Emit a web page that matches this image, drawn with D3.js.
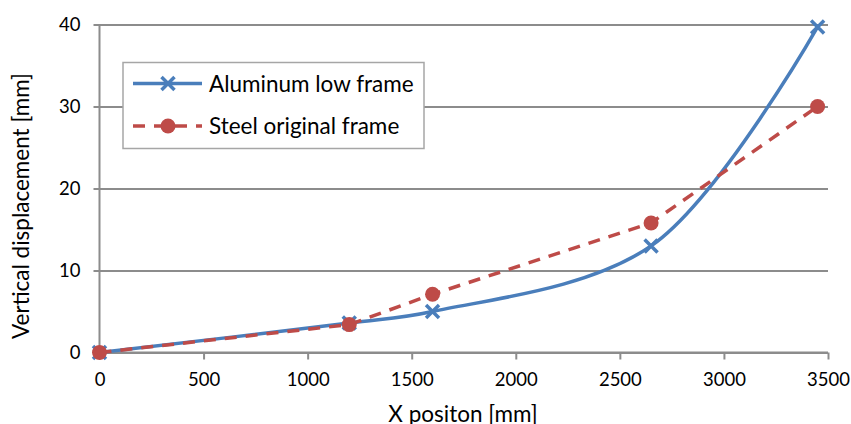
<!DOCTYPE html>
<html>
<head>
<meta charset="utf-8">
<script src="https://cdn.jsdelivr.net/npm/d3@7"></script>
<style>
  body { margin: 0; background: #fff; }
  text { font-family: Lato, "Open Sans", sans-serif; fill: #000; }
</style>
</head>
<body>
<div id="chart"></div>
<script>
// data
var series_names = ['Aluminum low frame', 'Steel original frame'];
var alu_x = [0, 1200, 1600, 2650, 3450];
var alu_y = [0, 3.6, 5.0, 13.0, 39.7];
var steel_x = [0, 1200, 1600, 2650, 3450];
var steel_y = [0, 3.4, 7.1, 15.8, 30.0];
var x_ticks = [0, 500, 1000, 1500, 2000, 2500, 3000, 3500];
var y_ticks = [0, 10, 20, 30, 40];

var W = 851, H = 424;
var margin = {top: 24.5, right: 23, bottom: 71.5, left: 99.5};
var width = W - margin.left - margin.right,
    height = H - margin.top - margin.bottom;

var blue = '#4a7ebb', red = '#be4b48', grid = '#8c8c8c';
var tick_fs = '18.5px', title_fs = '22.5px';

var svg = d3.select('#chart').append('svg')
    .attr('width', W).attr('height', H);

var x = d3.scaleLinear().domain([0, 3500]).range([0, width]);
var y = d3.scaleLinear().domain([0, 40]).range([height, 0]);

var main = svg.append('g')
    .attr('transform', 'translate(' + margin.left + ',' + margin.top + ')');

// horizontal gridlines + left ticks
var yAxis = d3.axisLeft(y).tickValues(y_ticks).tickSize(-width).tickPadding(19)
    .tickFormat(d3.format('d'));
var gy = main.append('g').call(yAxis);
gy.select('.domain').remove();
gy.selectAll('.tick line').attr('stroke', grid).attr('stroke-width', 2)
    .attr('x1', -6);
gy.selectAll('.tick text').style('font-size', tick_fs);

// x axis
var xAxis = d3.axisBottom(x).tickValues(x_ticks).tickSize(7).tickPadding(13)
    .tickFormat(d3.format('d'));
var gx = main.append('g').attr('transform', 'translate(0,' + height + ')').call(xAxis);
gx.select('.domain').attr('stroke', grid).attr('stroke-width', 2).attr('d', 'M0,0H' + width);
gx.selectAll('.tick line').attr('stroke', grid).attr('stroke-width', 2);
gx.selectAll('.tick text').style('font-size', tick_fs);

// vertical axis line
main.append('line').attr('x1', 0).attr('x2', 0).attr('y1', 0).attr('y2', height)
    .attr('stroke', grid).attr('stroke-width', 2);

var alu = alu_x.map(function (d, i) { return [d, alu_y[i]]; });
var steel = steel_x.map(function (d, i) { return [d, steel_y[i]]; });

var smooth = d3.line()
    .x(function (d) { return x(d[0]); })
    .y(function (d) { return y(d[1]); })
    .curve(d3.curveCatmullRom.alpha(0.5));
var straight = d3.line()
    .x(function (d) { return x(d[0]); })
    .y(function (d) { return y(d[1]); });

function cross(sel, cx, cy, r) {
    sel.append('path')
        .attr('d', 'M' + (cx - r) + ',' + (cy - r) + 'L' + (cx + r) + ',' + (cy + r) +
                   'M' + (cx - r) + ',' + (cy + r) + 'L' + (cx + r) + ',' + (cy - r))
        .attr('stroke', blue).attr('stroke-width', 3.5).attr('fill', 'none');
}

// aluminum
main.append('path').attr('d', smooth(alu))
    .attr('fill', 'none').attr('stroke', blue).attr('stroke-width', 3.5);
alu.forEach(function (d) { cross(main, x(d[0]), y(d[1]), 6.5); });

// steel
main.append('path').attr('d', straight(steel))
    .attr('fill', 'none').attr('stroke', red).attr('stroke-width', 3.5)
    .attr('stroke-dasharray', '12,9');
main.selectAll('circle.steel').data(steel).enter().append('circle')
    .attr('class', 'steel')
    .attr('cx', function (d) { return x(d[0]); })
    .attr('cy', function (d) { return y(d[1]); })
    .attr('r', 7.5).attr('fill', red);

// legend
var leg = svg.append('g');
leg.append('rect').attr('x', 123).attr('y', 62.5).attr('width', 301).attr('height', 86)
    .attr('fill', '#fff').attr('stroke', '#a6a6a6').attr('stroke-width', 1.5);
leg.append('line').attr('x1', 133).attr('x2', 202).attr('y1', 83.5).attr('y2', 83.5)
    .attr('stroke', blue).attr('stroke-width', 3.5);
cross(leg, 168, 83.5, 6.5);
leg.append('line').attr('x1', 133).attr('x2', 202).attr('y1', 126).attr('y2', 126)
    .attr('stroke', red).attr('stroke-width', 3.5).attr('stroke-dasharray', '12,9');
leg.append('circle').attr('cx', 168).attr('cy', 126).attr('r', 7.5).attr('fill', red);
leg.append('text').attr('x', 209).attr('y', 91.5).style('font-size', title_fs).text(series_names[0]);
leg.append('text').attr('x', 209).attr('y', 134).style('font-size', title_fs).text(series_names[1]);

// axis titles
svg.append('text').attr('text-anchor', 'middle')
    .attr('transform', 'translate(29,206)rotate(-90)')
    .style('font-size', title_fs).text('Vertical displacement [mm]');
svg.append('text').attr('text-anchor', 'middle')
    .attr('x', 463).attr('y', 422)
    .style('font-size', title_fs).text('X positon [mm]');
</script>
</body>
</html>
